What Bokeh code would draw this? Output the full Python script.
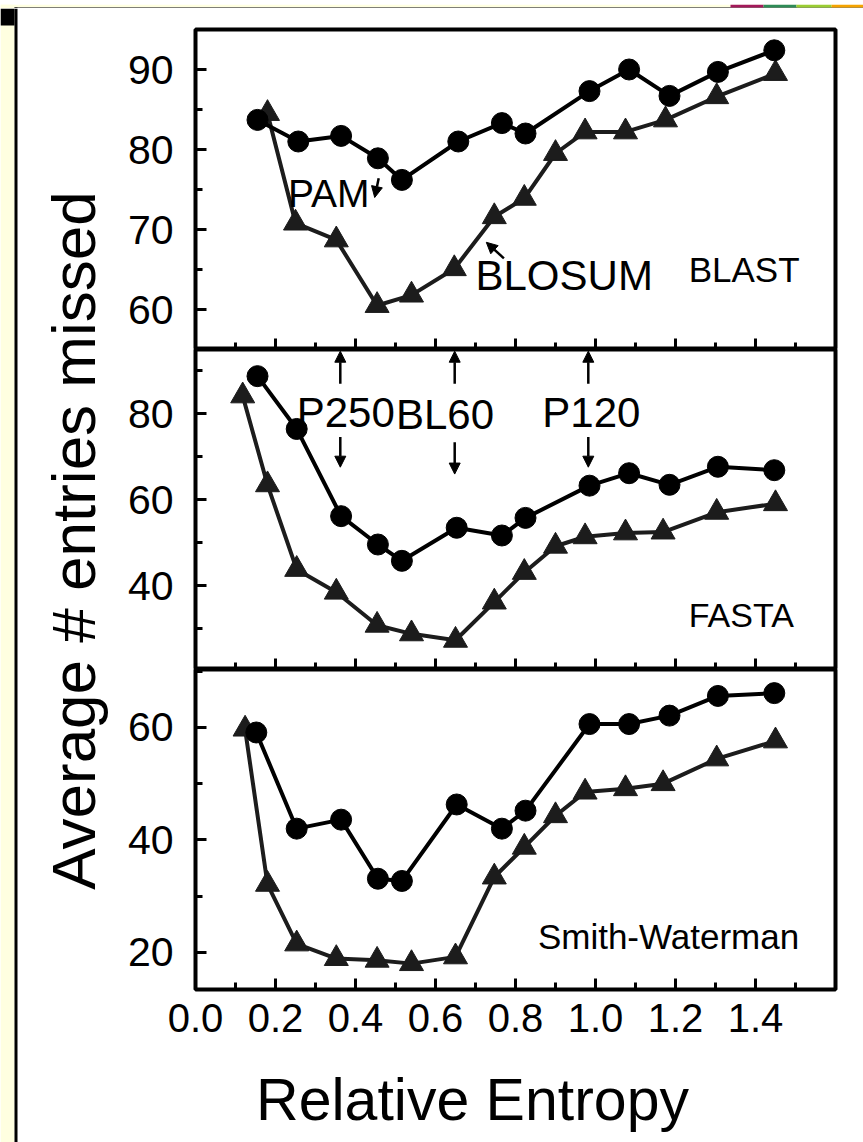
from math import pi
from bokeh.plotting import figure
from bokeh.layouts import row, column
from bokeh.models import Range1d, SingleIntervalTicker, FixedTicker, PrintfTickFormatter, Arrow, NormalHead
from bokeh.core.properties import value
from bokeh.embed import file_html
from bokeh.resources import INLINE

FONT = "Liberation Sans"

# ---------------- data ----------------
x_tick_values = [0.0, 0.2, 0.4, 0.6, 0.8, 1.0, 1.2, 1.4]
x_minor_values = [0.1, 0.3, 0.5, 0.7, 0.9, 1.1, 1.3, 1.5]
panel_names = ["BLAST", "FASTA", "Smith-Waterman"]

blast_circ_x = [0.155, 0.257, 0.364, 0.456, 0.516, 0.657, 0.766, 0.825, 0.985, 1.084, 1.185, 1.306, 1.447]
blast_circ_y = [83.7, 81.0, 81.7, 78.9, 76.2, 81.0, 83.3, 82.0, 87.3, 90.0, 86.7, 89.7, 92.4]
blast_tri_x = [0.18, 0.25, 0.352, 0.454, 0.54, 0.647, 0.747, 0.822, 0.90, 0.974, 1.075, 1.175, 1.303, 1.45]
blast_tri_y = [84.5, 70.8, 68.7, 60.5, 61.8, 65.1, 71.6, 73.9, 79.5, 82.2, 82.2, 83.7, 86.6, 89.5]

fasta_circ_x = [0.155, 0.253, 0.364, 0.456, 0.516, 0.653, 0.766, 0.825, 0.985, 1.084, 1.185, 1.306, 1.447]
fasta_circ_y = [88.8, 76.5, 56.2, 49.6, 45.8, 53.5, 51.7, 55.8, 63.3, 66.2, 63.5, 67.7, 66.9]
fasta_tri_x = [0.118, 0.18, 0.253, 0.352, 0.454, 0.54, 0.65, 0.747, 0.822, 0.90, 0.974, 1.075, 1.169, 1.303, 1.45]
fasta_tri_y = [84.2, 63.5, 43.8, 38.5, 30.8, 28.8, 27.3, 36.2, 43.1, 49.2, 51.4, 52.3, 52.5, 57.1, 59.1]

sw_circ_x = [0.152, 0.253, 0.364, 0.456, 0.516, 0.653, 0.766, 0.825, 0.985, 1.084, 1.185, 1.306, 1.447]
sw_circ_y = [59.1, 42.0, 43.6, 33.1, 32.7, 46.3, 42.0, 45.2, 60.6, 60.6, 62.1, 65.6, 66.1]
sw_tri_x = [0.124, 0.18, 0.253, 0.352, 0.454, 0.54, 0.65, 0.747, 0.822, 0.90, 0.974, 1.075, 1.169, 1.303, 1.45]
sw_tri_y = [59.7, 32.1, 21.5, 18.9, 18.6, 18.0, 19.2, 33.4, 38.7, 44.3, 48.5, 49.1, 50.0, 54.4, 57.6]

# annotation texts
blast_notes = ["PAM", "BLOSUM"]
fasta_notes = ["P250", "BL60", "P120"]
arrow_x = [0.362, 0.648, 0.982]

x_title = "Relative Entropy"
y_title = "Average # entries missed"

CREAM = "#FFFFE0"
TRI_COLOR = "#1c1c1c"
STRIPE = ["#a3195b", "#2e8b57", "#9acd32", "#f5a300"]

PAGE_W, PAGE_H = 863, 1142
TOP_H = 8
LEFT_W = 118


def deco_fig(w, h):
    f = figure(width=w, height=h, x_range=Range1d(0, w), y_range=Range1d(0, h),
               toolbar_location=None, output_backend="svg", min_border=0,
               x_axis_type=None, y_axis_type=None)
    f.grid.visible = False
    f.outline_line_color = None
    f.background_fill_color = "white"
    f.border_fill_color = "white"
    return f


def panel(yrange, yint, top_border, bottom_border, labels):
    p = figure(frame_width=640, frame_height=320,
               x_range=Range1d(0, 1.6), y_range=Range1d(*yrange),
               toolbar_location=None, output_backend="svg",
               min_border_left=77, min_border_right=28,
               min_border_top=top_border, min_border_bottom=bottom_border)
    p.xgrid.visible = False
    p.ygrid.visible = False
    p.outline_line_color = "black"
    p.outline_line_width = 4
    p.background_fill_color = "white"
    p.border_fill_color = "white"
    p.xaxis.ticker = FixedTicker(ticks=x_tick_values, minor_ticks=x_minor_values)
    p.xaxis.formatter = PrintfTickFormatter(format="%.1f")
    p.yaxis.ticker = SingleIntervalTicker(interval=yint, num_minor_ticks=2)
    for ax in (p.xaxis[0], p.yaxis[0]):
        ax.axis_line_color = None
        ax.major_tick_in = 11
        ax.major_tick_out = 0
        ax.minor_tick_in = 7
        ax.minor_tick_out = 0
        ax.major_tick_line_width = 3
        ax.minor_tick_line_width = 3
        ax.major_tick_line_color = "black"
        ax.minor_tick_line_color = "black"
        ax.major_label_text_font = FONT
        ax.major_label_text_color = "black"
    p.yaxis.major_label_text_font_size = "41px"
    p.yaxis.major_label_standoff = 22
    if labels:
        p.xaxis.major_label_text_font_size = "40px"
        p.xaxis.major_label_standoff = 14
    else:
        p.xaxis.major_label_text_font_size = "1px"
        p.xaxis.major_label_text_color = None
        p.xaxis.major_label_standoff = 0
    return p


def series(p, cx, cy, tx, ty):
    p.line(tx, ty, line_color=TRI_COLOR, line_width=4)
    p.scatter(tx, ty, marker="triangle", size=24, fill_color=TRI_COLOR, line_color=TRI_COLOR)
    p.line(cx, cy, line_color="black", line_width=4)
    p.scatter(cx, cy, marker="circle", size=21, fill_color="black", line_color="black")


def note(p, x, y, s, size):
    p.text(x=[x], y=[y], text=[s], text_font=value(FONT), text_font_size=size,
           text_color="black", text_align="left", text_baseline="alphabetic")


def arrow(p, x0, y0, x1, y1):
    p.add_layout(Arrow(end=NormalHead(size=11, fill_color="black", line_color="black"),
                       x_start=x0, y_start=y0, x_end=x1, y_end=y1,
                       line_width=2.5, line_color="black"))


# ---- BLAST ----
f1 = panel((55, 95), 10, 21, 0, False)
series(f1, blast_circ_x, blast_circ_y, blast_tri_x, blast_tri_y)
note(f1, 0.231, 74.5, blast_notes[0], "39px")
note(f1, 0.700, 64.2, blast_notes[1], "42px")
note(f1, 1.233, 64.95, panel_names[0], "35px")
arrow(f1, 0.458, 76.4, 0.448, 74.0)
arrow(f1, 0.771, 66.4, 0.727, 68.4)

# ---- FASTA ----
f2 = panel((20.5, 95), 20, 0, 0, False)
series(f2, fasta_circ_x, fasta_circ_y, fasta_tri_x, fasta_tri_y)
note(f2, 0.253, 80.3, fasta_notes[0], "42px")
note(f2, 0.501, 79.9, fasta_notes[1], "42px")
note(f2, 0.867, 80.3, fasta_notes[2], "42px")
note(f2, 1.233, 33.15, panel_names[1], "34px")
for ax_x in arrow_x:
    arrow(f2, ax_x, 87.0, ax_x, 94.6)
arrow(f2, arrow_x[0], 74.6, arrow_x[0], 67.6)
arrow(f2, arrow_x[1], 73.4, arrow_x[1], 66.0)
arrow(f2, arrow_x[2], 74.6, arrow_x[2], 67.6)

# ---- Smith-Waterman ----
f3 = panel((13.4, 70.3), 20, 0, 70, True)
series(f3, sw_circ_x, sw_circ_y, sw_tri_x, sw_tri_y)
note(f3, 0.856, 22.8, panel_names[2], "35px")

BODY_H = PAGE_H - TOP_H
XF_H = BODY_H - 341 - 320 - 390

# ---- x title strip (frame aligned with the panels' frames) ----
xf = figure(frame_width=640, frame_height=XF_H, x_range=Range1d(0, 640), y_range=Range1d(0, XF_H),
            toolbar_location=None, output_backend="svg",
            min_border_left=77, min_border_right=28, min_border_top=0, min_border_bottom=0,
            x_axis_type=None, y_axis_type=None)
xf.grid.visible = False
xf.outline_line_color = None
xf.background_fill_color = "white"
xf.border_fill_color = "white"
xf.text(x=[277], y=[42.5], text=[x_title], text_font=value(FONT), text_font_size="59px",
        text_color="black", text_align="center", text_baseline="alphabetic")

# ---- top decorative strip ----
tf = deco_fig(PAGE_W, TOP_H)
tf.quad(left=[0], right=[PAGE_W], bottom=[TOP_H - 3], top=[TOP_H], fill_color=CREAM, line_color=None)
tf.quad(left=[0], right=[14], bottom=[0], top=[TOP_H], fill_color=CREAM, line_color=None)
tf.quad(left=[14], right=[PAGE_W], bottom=[TOP_H - 7], top=[TOP_H - 3], fill_color="black", line_color=None)
tf.quad(left=[14], right=[17], bottom=[0], top=[TOP_H - 3], fill_color="black", line_color=None)
tf.quad(left=[730, 763, 796, 831], right=[763, 796, 831, PAGE_W], bottom=[TOP_H - 3] * 4,
        top=[TOP_H] * 4, fill_color=STRIPE, line_color=None)

# ---- left strip with y title ----
lf = deco_fig(LEFT_W, BODY_H)
lf.quad(left=[0], right=[14], bottom=[0], top=[BODY_H], fill_color=CREAM, line_color=None)
lf.quad(left=[14], right=[17], bottom=[0], top=[BODY_H], fill_color="black", line_color=None)
lf.quad(left=[0], right=[14], bottom=[BODY_H - 17], top=[BODY_H], fill_color="black", line_color=None)
lf.text(x=[73], y=[BODY_H - 532], text=[y_title], angle=pi / 2, text_font=value(FONT),
        text_font_size="62px", text_color="black", text_align="center",
        text_baseline="alphabetic")

layout = column(tf, row(lf, column(f1, f2, f3, xf)))

open("out.html", "w").write(file_html(layout, INLINE))
